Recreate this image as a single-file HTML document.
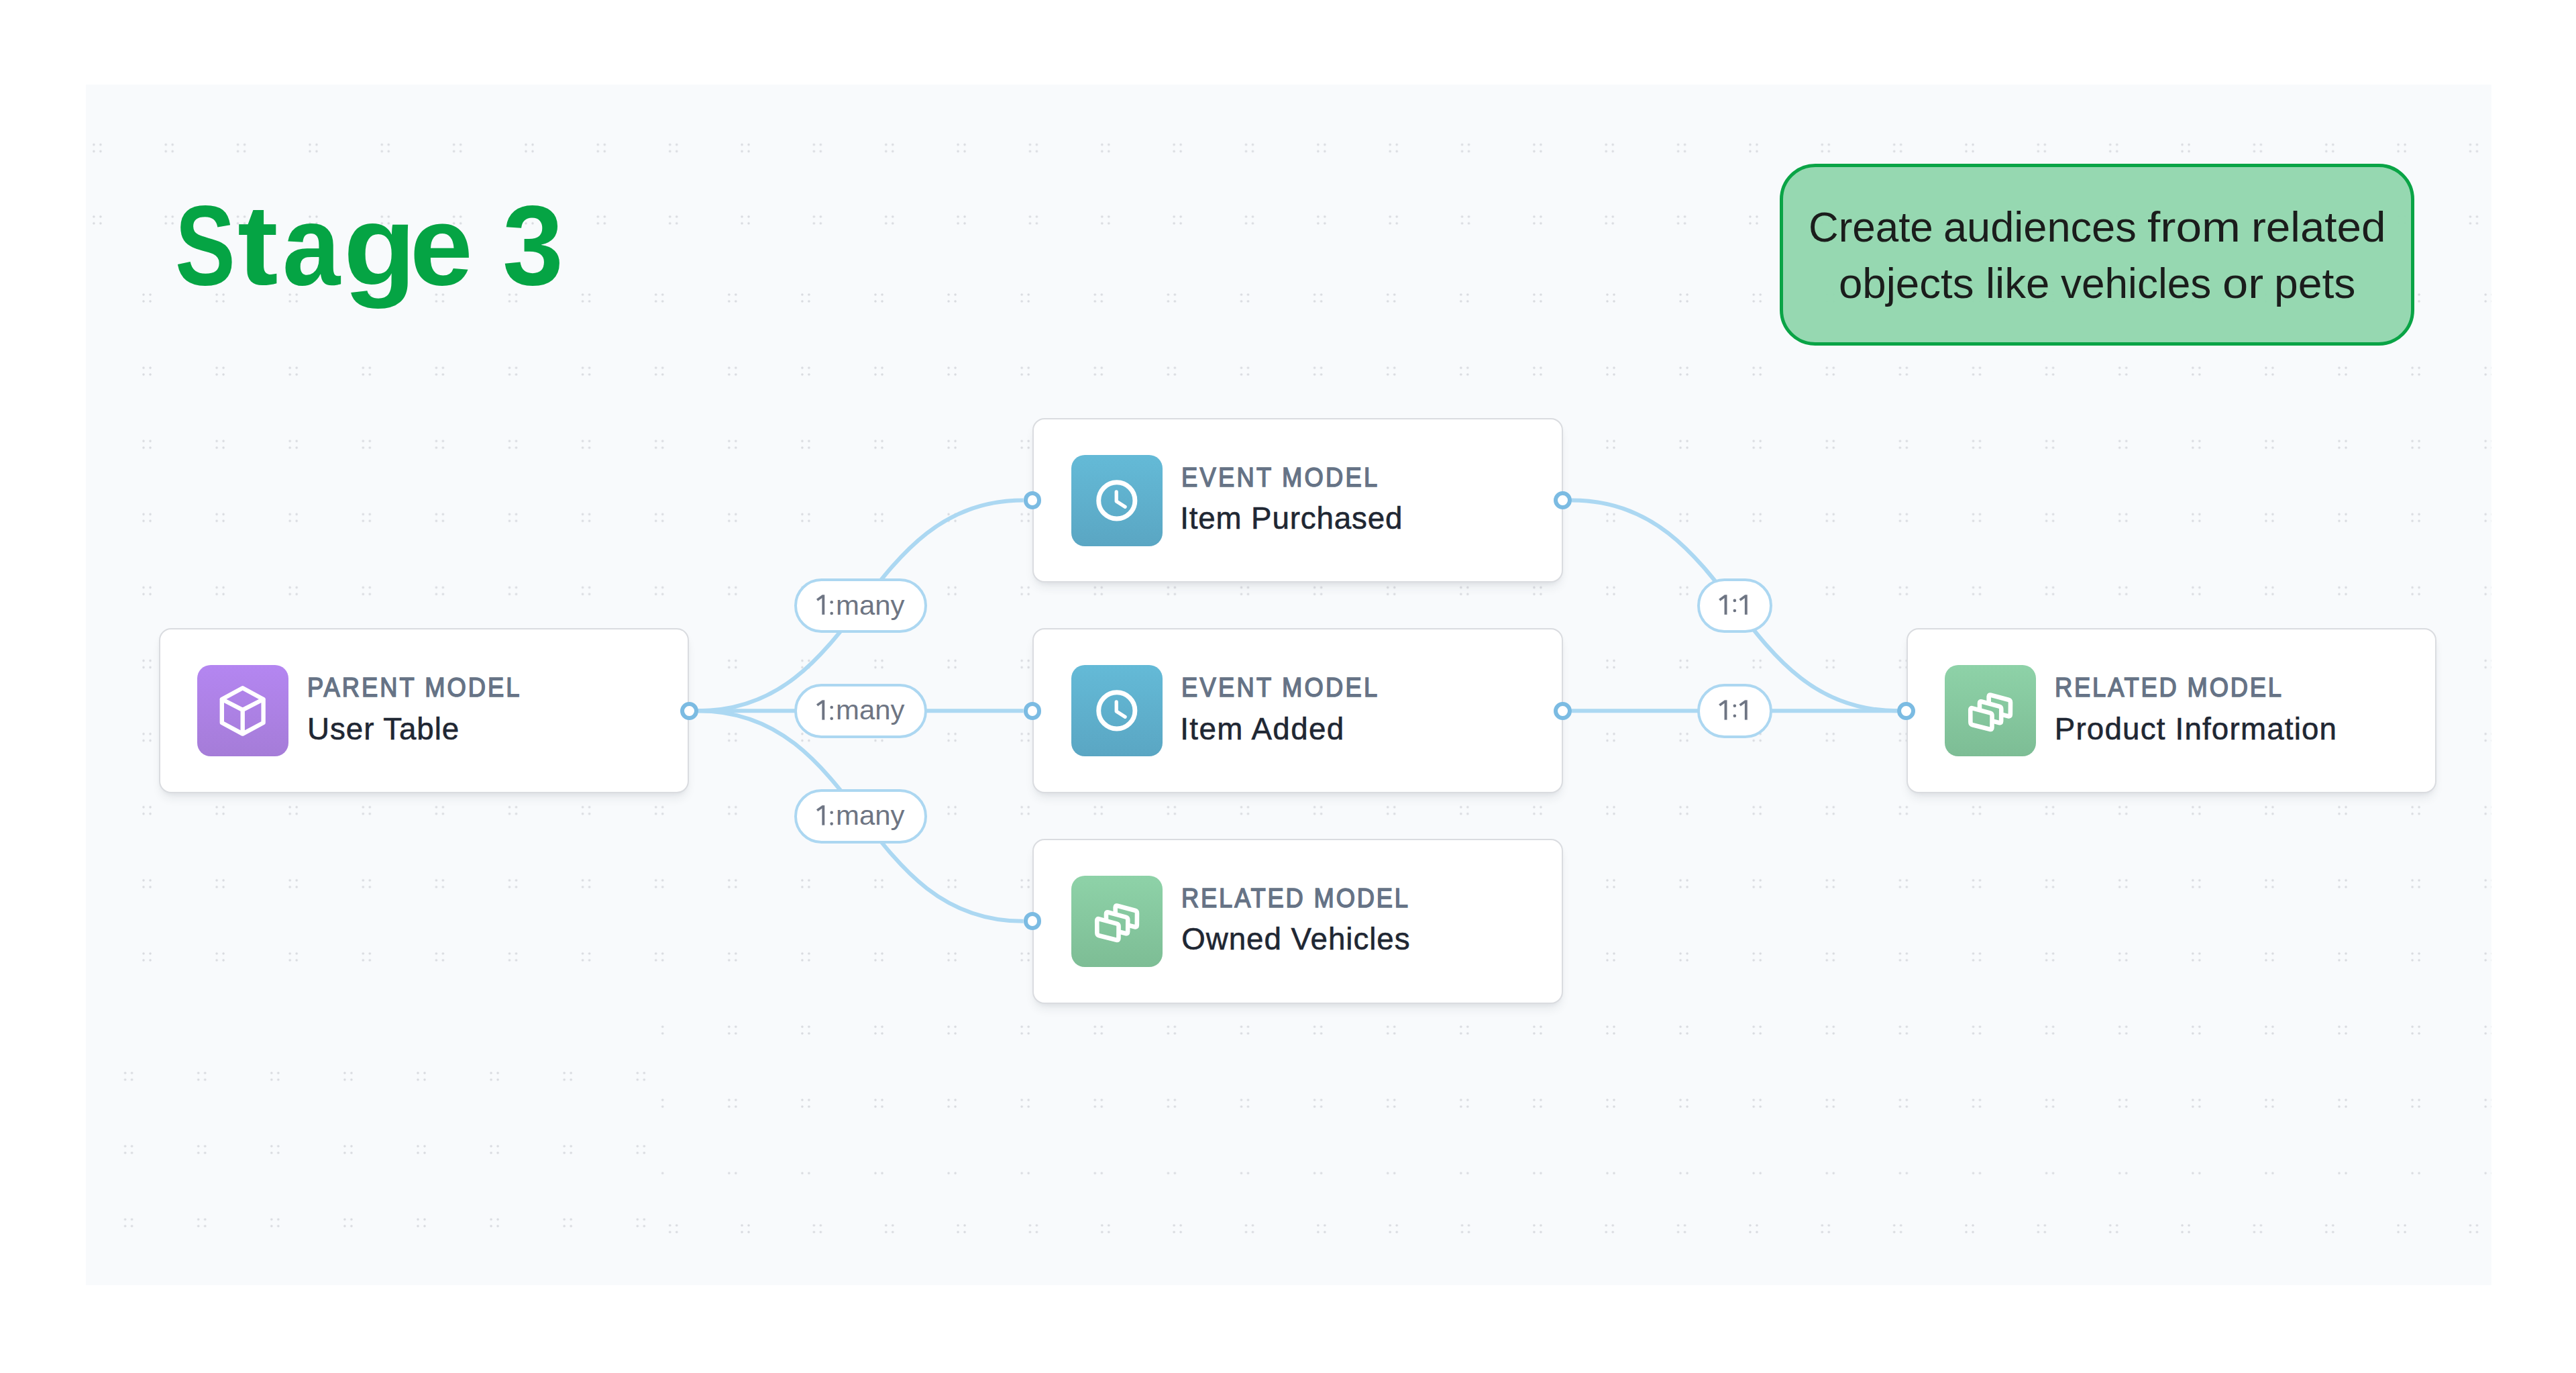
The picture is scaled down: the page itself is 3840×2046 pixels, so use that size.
<!DOCTYPE html>
<html><head><meta charset="utf-8"><title>Stage 3</title>
<style>
html,body{margin:0;padding:0;background:#fff;width:3840px;height:2046px;overflow:hidden}
body{position:relative;font-family:"Liberation Sans",sans-serif}
.abs{position:absolute}
#panel{position:absolute;left:128px;top:126px;width:3586px;height:1789px;background:#f8fafc}
.t{position:absolute;white-space:nowrap}
.title{color:#05a444}
.callout{position:absolute;left:2652.8px;top:244.3px;width:946.7px;height:270.3px;box-sizing:border-box;border:5px solid #0aa446;border-radius:53px;background:rgba(146,214,174,0.96)}
.ctext{color:#1b1d1c}
.card{position:absolute;width:790.5px;height:245.5px;box-sizing:border-box;background:#fff;border:2.5px solid #dadce0;border-radius:18px;box-shadow:0 10px 16px -4px rgba(30,41,59,0.09),0 4px 8px -4px rgba(30,41,59,0.08)}
.icon{position:absolute;width:136px;height:136px;border-radius:20px;overflow:hidden}
.icon.parent{background:linear-gradient(#b486f1,#a57cd8)}
.icon.event{background:linear-gradient(#64bad7,#5aa6c3)}
.icon.related{background:linear-gradient(#8ed2a8,#7dbd95)}
.lbl{color:#667386}
.name{color:#1f2733}
.handle{position:absolute;width:26.8px;height:26.8px;box-sizing:border-box;border-radius:50%;border:6.6px solid #7bbbe2;background:#fff}
.pill{position:absolute;box-sizing:border-box;border:4.3px solid #acd7f1;border-radius:41px;background:#fff}
.ptxt{color:#6e7583}
</style></head><body>
<div id="panel"></div>
<svg class="abs" width="3840" height="2046" style="left:0;top:0">
<defs>
<pattern id="pA" patternUnits="userSpaceOnUse" x="91.23" y="166.82" width="107.35" height="107.35"><circle cx="48.67" cy="48.67" r="1.75" fill="#d8dadf"/><circle cx="58.67" cy="48.67" r="1.75" fill="#d8dadf"/><circle cx="48.67" cy="58.67" r="1.75" fill="#d8dadf"/><circle cx="58.67" cy="58.67" r="1.75" fill="#d8dadf"/></pattern>
<pattern id="pB" patternUnits="userSpaceOnUse" x="164.45" y="389.45" width="109.1" height="109.1"><circle cx="49.55" cy="49.55" r="1.75" fill="#d8dadf"/><circle cx="59.55" cy="49.55" r="1.75" fill="#d8dadf"/><circle cx="49.55" cy="59.55" r="1.75" fill="#d8dadf"/><circle cx="59.55" cy="59.55" r="1.75" fill="#d8dadf"/></pattern>
<pattern id="pC" patternUnits="userSpaceOnUse" x="137.05" y="1549.35" width="109.1" height="109.1"><circle cx="49.55" cy="49.55" r="1.75" fill="#d8dadf"/><circle cx="59.55" cy="49.55" r="1.75" fill="#d8dadf"/><circle cx="49.55" cy="59.55" r="1.75" fill="#d8dadf"/><circle cx="59.55" cy="59.55" r="1.75" fill="#d8dadf"/></pattern>
<pattern id="pD" patternUnits="userSpaceOnUse" x="91.23" y="1777.33" width="107.35" height="107.35"><circle cx="48.67" cy="48.67" r="1.75" fill="#d8dadf"/><circle cx="58.67" cy="48.67" r="1.75" fill="#d8dadf"/><circle cx="48.67" cy="58.67" r="1.75" fill="#d8dadf"/><circle cx="58.67" cy="58.67" r="1.75" fill="#d8dadf"/></pattern>
</defs>
<rect x="128" y="126" width="3586" height="259" fill="url(#pA)"/>
<rect x="128" y="385" width="3586" height="1130" fill="url(#pB)"/>
<rect x="982" y="1515" width="2732" height="237" fill="url(#pB)"/>
<rect x="128" y="1515" width="854" height="400" fill="url(#pC)"/>
<rect x="982" y="1752" width="2732" height="163" fill="url(#pD)"/>
</svg>
<div class="t title" style="left:261.30px;top:264.51px;font-size:168.4px;line-height:202.08px;font-weight:700;transform:scaleX(0.8000);transform-origin:0 0;">S</div>
<div class="t title" style="left:354.36px;top:264.51px;font-size:168.4px;line-height:202.08px;font-weight:700;transform:scaleX(1.0800);transform-origin:0 0;">t</div>
<div class="t title" style="left:420.90px;top:264.51px;font-size:168.4px;line-height:202.08px;font-weight:700;transform:scaleX(0.9200);transform-origin:0 0;">a</div>
<div class="t title" style="left:511.77px;top:264.51px;font-size:168.4px;line-height:202.08px;font-weight:700;transform:scaleX(1.0500);transform-origin:0 0;">g</div>
<div class="t title" style="left:611.00px;top:264.51px;font-size:168.4px;line-height:202.08px;font-weight:700;transform:scaleX(1.0000);transform-origin:0 0;">e</div>
<div class="t title" style="left:749.48px;top:264.51px;font-size:168.4px;line-height:202.08px;font-weight:700;transform:scaleX(0.9700);transform-origin:0 0;">3</div>
<div class="callout"></div>
<div class="t ctext" style="left:2695.53px;top:301.04px;font-size:62.5px;line-height:75.00px;font-weight:400;letter-spacing:0.000px;transform:scaleX(0.9901);transform-origin:0 0;">Create</div>
<div class="t ctext" style="left:2897.07px;top:301.04px;font-size:62.5px;line-height:75.00px;font-weight:400;letter-spacing:0.000px;transform:scaleX(1.0100);transform-origin:0 0;">audiences</div>
<div class="t ctext" style="left:3201.39px;top:301.04px;font-size:62.5px;line-height:75.00px;font-weight:400;letter-spacing:0.000px;transform:scaleX(1.1117);transform-origin:0 0;">from</div>
<div class="t ctext" style="left:3355.80px;top:301.04px;font-size:62.5px;line-height:75.00px;font-weight:400;letter-spacing:0.000px;transform:scaleX(1.0492);transform-origin:0 0;">related</div>
<div class="t ctext" style="left:2740.75px;top:384.54px;font-size:62.5px;line-height:75.00px;font-weight:400;letter-spacing:0.000px;transform:scaleX(1.0176);transform-origin:0 0;">objects</div>
<div class="t ctext" style="left:2960.04px;top:384.54px;font-size:62.5px;line-height:75.00px;font-weight:400;letter-spacing:0.000px;transform:scaleX(1.0161);transform-origin:0 0;">like</div>
<div class="t ctext" style="left:3072.10px;top:384.54px;font-size:62.5px;line-height:75.00px;font-weight:400;letter-spacing:0.000px;transform:scaleX(0.9933);transform-origin:0 0;">vehicles</div>
<div class="t ctext" style="left:3312.95px;top:384.54px;font-size:62.5px;line-height:75.00px;font-weight:400;letter-spacing:0.000px;transform:scaleX(1.0990);transform-origin:0 0;">or</div>
<div class="t ctext" style="left:3389.79px;top:384.54px;font-size:62.5px;line-height:75.00px;font-weight:400;letter-spacing:0.000px;transform:scaleX(1.0286);transform-origin:0 0;">pets</div>
<svg class="abs" width="3840" height="2046" style="left:0;top:0"><path d="M1040.7,1059.2 C1283.2,1059.2 1283.2,745.6 1525.6,745.6" fill="none" stroke="#acd8f2" stroke-width="6"/><path d="M1040.7,1059.2 C1283.2,1059.2 1283.2,1059.2 1525.6,1059.2" fill="none" stroke="#acd8f2" stroke-width="6"/><path d="M1040.7,1059.2 C1283.2,1059.2 1283.2,1372.8 1525.6,1372.8" fill="none" stroke="#acd8f2" stroke-width="6"/><path d="M2342.9,745.6 C2585.6,745.6 2585.6,1059.2 2828.2,1059.2" fill="none" stroke="#acd8f2" stroke-width="6"/><path d="M2342.9,1059.2 C2585.6,1059.2 2585.6,1059.2 2828.2,1059.2" fill="none" stroke="#acd8f2" stroke-width="6"/></svg>
<div class="pill" style="left:1184.2px;top:861.9px;width:198.0px;height:81px"></div><div class="pill" style="left:1184.2px;top:1018.7px;width:198.0px;height:81px"></div><div class="pill" style="left:1184.2px;top:1175.5px;width:198.0px;height:81px"></div><div class="pill" style="left:2529.6px;top:861.9px;width:112.0px;height:81px"></div><div class="pill" style="left:2529.6px;top:1018.7px;width:112.0px;height:81px"></div>
<div class="t ptxt" style="left:1245.90px;top:877.57px;font-size:40.6px;line-height:48.72px;font-weight:400;letter-spacing:0.000px;transform:scaleX(1.0323);transform-origin:0 0;">many</div>
<div class="t ptxt" style="left:1245.90px;top:1034.37px;font-size:40.6px;line-height:48.72px;font-weight:400;letter-spacing:0.000px;transform:scaleX(1.0323);transform-origin:0 0;">many</div>
<div class="t ptxt" style="left:1245.90px;top:1191.17px;font-size:40.6px;line-height:48.72px;font-weight:400;letter-spacing:0.000px;transform:scaleX(1.0323);transform-origin:0 0;">many</div>
<svg class="abs" width="3840" height="2046" style="left:0;top:0"><path d="M1229.10,886.60 L1229.10,915.80 L1225.50,915.80 L1225.50,890.90 L1219.20,895.50 L1217.20,892.70 L1225.70,886.60 Z" fill="#6e7583" stroke="#6e7583" stroke-width="0.3" stroke-linejoin="round"/><circle cx="1239.70" cy="897.20" r="2.3" fill="#6e7583"/><circle cx="1239.70" cy="914.00" r="2.3" fill="#6e7583"/><path d="M1229.10,1043.40 L1229.10,1072.60 L1225.50,1072.60 L1225.50,1047.70 L1219.20,1052.30 L1217.20,1049.50 L1225.70,1043.40 Z" fill="#6e7583" stroke="#6e7583" stroke-width="0.3" stroke-linejoin="round"/><circle cx="1239.70" cy="1054.00" r="2.3" fill="#6e7583"/><circle cx="1239.70" cy="1070.80" r="2.3" fill="#6e7583"/><path d="M1229.10,1200.20 L1229.10,1229.40 L1225.50,1229.40 L1225.50,1204.50 L1219.20,1209.10 L1217.20,1206.30 L1225.70,1200.20 Z" fill="#6e7583" stroke="#6e7583" stroke-width="0.3" stroke-linejoin="round"/><circle cx="1239.70" cy="1210.80" r="2.3" fill="#6e7583"/><circle cx="1239.70" cy="1227.60" r="2.3" fill="#6e7583"/><path d="M2574.30,886.60 L2574.30,915.80 L2570.70,915.80 L2570.70,890.90 L2564.40,895.50 L2562.40,892.70 L2570.90,886.60 Z" fill="#6e7583" stroke="#6e7583" stroke-width="0.3" stroke-linejoin="round"/><path d="M2604.60,886.60 L2604.60,915.80 L2601.00,915.80 L2601.00,890.90 L2594.70,895.50 L2592.70,892.70 L2601.20,886.60 Z" fill="#6e7583" stroke="#6e7583" stroke-width="0.3" stroke-linejoin="round"/><circle cx="2585.85" cy="894.90" r="2.3" fill="#6e7583"/><circle cx="2585.85" cy="910.00" r="2.3" fill="#6e7583"/><path d="M2574.30,1043.40 L2574.30,1072.60 L2570.70,1072.60 L2570.70,1047.70 L2564.40,1052.30 L2562.40,1049.50 L2570.90,1043.40 Z" fill="#6e7583" stroke="#6e7583" stroke-width="0.3" stroke-linejoin="round"/><path d="M2604.60,1043.40 L2604.60,1072.60 L2601.00,1072.60 L2601.00,1047.70 L2594.70,1052.30 L2592.70,1049.50 L2601.20,1043.40 Z" fill="#6e7583" stroke="#6e7583" stroke-width="0.3" stroke-linejoin="round"/><circle cx="2585.85" cy="1051.70" r="2.3" fill="#6e7583"/><circle cx="2585.85" cy="1066.80" r="2.3" fill="#6e7583"/></svg>
<div class="card" style="left:236.8px;top:936.45px"></div><div class="icon parent" style="left:294.4px;top:991.20px"><svg width="136" height="136" style="position:absolute;left:0;top:0"><defs><linearGradient id="g0" gradientUnits="userSpaceOnUse" x1="0" y1="0" x2="0" y2="136"><stop offset="0" stop-color="#b486f1"/><stop offset="1" stop-color="#a57cd8"/></linearGradient></defs><path d="M67.7,34.2 L36.8,51.0 L36.8,86.0 L67.7,102.6 L98.6,86.0 L98.6,51.0 Z M36.8,51.0 L67.7,66.8 L98.6,51.0 M67.7,66.8 L67.7,102.6" fill="none" stroke="#fff" stroke-width="6.4" stroke-linejoin="round" stroke-linecap="round"/></svg></div><div class="card" style="left:1539.0px;top:622.85px"></div><div class="icon event" style="left:1596.6px;top:677.60px"><svg width="136" height="136" style="position:absolute;left:0;top:0"><defs><linearGradient id="g1" gradientUnits="userSpaceOnUse" x1="0" y1="0" x2="0" y2="136"><stop offset="0" stop-color="#64bad7"/><stop offset="1" stop-color="#5aa6c3"/></linearGradient></defs><circle cx="67.8" cy="67.9" r="27.1" fill="none" stroke="#fff" stroke-width="6.9"/><polyline points="67.20,54.90 67.20,69.10 80.10,77.30" fill="none" stroke="#fff" stroke-width="5.3" stroke-linecap="round" stroke-linejoin="round"/></svg></div><div class="card" style="left:1539.0px;top:936.45px"></div><div class="icon event" style="left:1596.6px;top:991.20px"><svg width="136" height="136" style="position:absolute;left:0;top:0"><defs><linearGradient id="g2" gradientUnits="userSpaceOnUse" x1="0" y1="0" x2="0" y2="136"><stop offset="0" stop-color="#64bad7"/><stop offset="1" stop-color="#5aa6c3"/></linearGradient></defs><circle cx="67.8" cy="67.9" r="27.1" fill="none" stroke="#fff" stroke-width="6.9"/><polyline points="67.20,54.90 67.20,69.10 80.10,77.30" fill="none" stroke="#fff" stroke-width="5.3" stroke-linecap="round" stroke-linejoin="round"/></svg></div><div class="card" style="left:1539.0px;top:1250.05px"></div><div class="icon related" style="left:1596.6px;top:1304.80px"><svg width="136" height="136" style="position:absolute;left:0;top:0"><defs><linearGradient id="g3" gradientUnits="userSpaceOnUse" x1="0" y1="0" x2="0" y2="136"><stop offset="0" stop-color="#8ed2a8"/><stop offset="1" stop-color="#7dbd95"/></linearGradient></defs><path d="M68.69,44.73 L94.91,51.77 Q98.00,52.60 97.97,55.80 L97.83,73.80 Q97.80,77.00 94.70,76.21 L68.90,69.59 Q65.80,68.80 65.77,65.60 L65.63,47.10 Q65.60,43.90 68.69,44.73 Z" fill="url(#g3)" stroke="#fff" stroke-width="6.6" stroke-linejoin="round"/><path d="M54.99,54.53 L81.21,61.57 Q84.30,62.40 84.27,65.60 L84.13,83.60 Q84.10,86.80 81.00,86.01 L55.20,79.39 Q52.10,78.60 52.07,75.40 L51.93,56.90 Q51.90,53.70 54.99,54.53 Z" fill="url(#g3)" stroke="#fff" stroke-width="6.6" stroke-linejoin="round"/><path d="M41.29,64.33 L67.51,71.37 Q70.60,72.20 70.57,75.40 L70.43,93.40 Q70.40,96.60 67.30,95.81 L41.50,89.19 Q38.40,88.40 38.37,85.20 L38.23,66.70 Q38.20,63.50 41.29,64.33 Z" fill="url(#g3)" stroke="#fff" stroke-width="6.6" stroke-linejoin="round"/></svg></div><div class="card" style="left:2841.6px;top:936.45px"></div><div class="icon related" style="left:2899.2px;top:991.20px"><svg width="136" height="136" style="position:absolute;left:0;top:0"><defs><linearGradient id="g4" gradientUnits="userSpaceOnUse" x1="0" y1="0" x2="0" y2="136"><stop offset="0" stop-color="#8ed2a8"/><stop offset="1" stop-color="#7dbd95"/></linearGradient></defs><path d="M68.69,44.73 L94.91,51.77 Q98.00,52.60 97.97,55.80 L97.83,73.80 Q97.80,77.00 94.70,76.21 L68.90,69.59 Q65.80,68.80 65.77,65.60 L65.63,47.10 Q65.60,43.90 68.69,44.73 Z" fill="url(#g4)" stroke="#fff" stroke-width="6.6" stroke-linejoin="round"/><path d="M54.99,54.53 L81.21,61.57 Q84.30,62.40 84.27,65.60 L84.13,83.60 Q84.10,86.80 81.00,86.01 L55.20,79.39 Q52.10,78.60 52.07,75.40 L51.93,56.90 Q51.90,53.70 54.99,54.53 Z" fill="url(#g4)" stroke="#fff" stroke-width="6.6" stroke-linejoin="round"/><path d="M41.29,64.33 L67.51,71.37 Q70.60,72.20 70.57,75.40 L70.43,93.40 Q70.40,96.60 67.30,95.81 L41.50,89.19 Q38.40,88.40 38.37,85.20 L38.23,66.70 Q38.20,63.50 41.29,64.33 Z" fill="url(#g4)" stroke="#fff" stroke-width="6.6" stroke-linejoin="round"/></svg></div>
<div class="t lbl" style="left:458.30px;top:1001.16px;font-size:40.3px;line-height:48.36px;font-weight:400;letter-spacing:3.384px;transform:scaleX(0.9000);transform-origin:0 0;-webkit-text-stroke:1.6px currentColor;">PARENT MODEL</div>
<div class="t name" style="left:458.00px;top:1059.64px;font-size:45.7px;line-height:54.84px;font-weight:400;letter-spacing:0.967px;-webkit-text-stroke:0.6px currentColor;">User Table</div>
<div class="t lbl" style="left:1760.50px;top:687.56px;font-size:40.3px;line-height:48.36px;font-weight:400;letter-spacing:3.656px;transform:scaleX(0.9000);transform-origin:0 0;-webkit-text-stroke:1.6px currentColor;">EVENT MODEL</div>
<div class="t name" style="left:1759.20px;top:746.04px;font-size:45.7px;line-height:54.84px;font-weight:400;letter-spacing:0.869px;-webkit-text-stroke:0.6px currentColor;">Item Purchased</div>
<div class="t lbl" style="left:1760.50px;top:1001.16px;font-size:40.3px;line-height:48.36px;font-weight:400;letter-spacing:3.656px;transform:scaleX(0.9000);transform-origin:0 0;-webkit-text-stroke:1.6px currentColor;">EVENT MODEL</div>
<div class="t name" style="left:1759.20px;top:1059.64px;font-size:45.7px;line-height:54.84px;font-weight:400;letter-spacing:1.433px;-webkit-text-stroke:0.6px currentColor;">Item Added</div>
<div class="t lbl" style="left:1760.50px;top:1314.76px;font-size:40.3px;line-height:48.36px;font-weight:400;letter-spacing:3.185px;transform:scaleX(0.9000);transform-origin:0 0;-webkit-text-stroke:1.6px currentColor;">RELATED MODEL</div>
<div class="t name" style="left:1761.20px;top:1373.24px;font-size:45.7px;line-height:54.84px;font-weight:400;letter-spacing:0.985px;-webkit-text-stroke:0.6px currentColor;">Owned Vehicles</div>
<div class="t lbl" style="left:3063.10px;top:1001.16px;font-size:40.3px;line-height:48.36px;font-weight:400;letter-spacing:3.185px;transform:scaleX(0.9000);transform-origin:0 0;-webkit-text-stroke:1.6px currentColor;">RELATED MODEL</div>
<div class="t name" style="left:3062.80px;top:1059.64px;font-size:45.7px;line-height:54.84px;font-weight:400;letter-spacing:1.194px;-webkit-text-stroke:0.6px currentColor;">Product Information</div>
<div class="handle" style="left:1013.90px;top:1045.80px"></div><div class="handle" style="left:1525.60px;top:732.20px"></div><div class="handle" style="left:2316.10px;top:732.20px"></div><div class="handle" style="left:1525.60px;top:1045.80px"></div><div class="handle" style="left:2316.10px;top:1045.80px"></div><div class="handle" style="left:1525.60px;top:1359.40px"></div><div class="handle" style="left:2828.20px;top:1045.80px"></div>
</body></html>
